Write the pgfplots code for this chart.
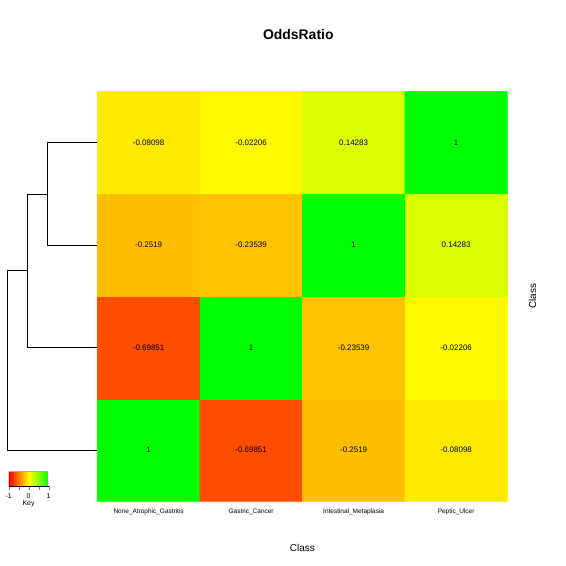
\documentclass[border=0pt]{standalone}
\usepackage{pgfplots}
\pgfplotsset{compat=1.18}
\usepackage{fontspec}
\setmainfont{Liberation Sans}
\pgfplotsset{colormap={ryg}{rgb255=(255,0,0) rgb255=(255,255,0) rgb255=(0,255,0)}}
\begin{document}
\begin{tikzpicture}[x=1bp,y=1bp]
\useasboundingbox (0,0) rectangle (566,566);
\begin{axis}[at={(95,63)}, anchor=south west, scale only axis, width=410bp, height=410bp,
  xmin=-0.5, xmax=3.5, ymin=-0.5, ymax=3.5, clip=false, axis line style={draw=none},
  colormap name=ryg, point meta min=-1, point meta max=1,
  xtick={0,1,2,3}, xticklabels={None\_Atrophic\_Gastritis,Gastric\_Cancer,Intestinal\_Metaplasia,Peptic\_Ulcer},
  ytick={0,1,2,3}, yticklabels={None\_Atrophic\_Gastritis,Gastric\_Cancer,Intestinal\_Metaplasia,Peptic\_Ulcer},
  yticklabel pos=right, major tick length=0pt,
  xticklabel style={font=\fontsize{6.5}{7}\selectfont, yshift=-4bp},
  yticklabel style={font=\fontsize{6.5}{7}\selectfont, rotate=90, anchor=south, xshift=4bp},
  xlabel={Class}, ylabel={Class}, ylabel near ticks, yticklabel pos=right,
  xlabel style={font=\fontsize{10}{12}\selectfont, yshift=-22bp},
  ylabel style={font=\fontsize{10}{12}\selectfont, yshift=-18bp},
  title={\bfseries OddsRatio}, title style={font=\fontsize{14}{16}\selectfont, at={(0.49,1)}, yshift=42bp},
  nodes near coords style={font=\fontsize{8}{9}\selectfont}]
\addplot[matrix plot*, mesh/cols=4, point meta=explicit] table[meta=v] {
x y v
0 0 1
1 0 -0.69851
2 0 -0.2519
3 0 -0.08098
0 1 -0.69851
1 1 1
2 1 -0.23539
3 1 -0.02206
0 2 -0.2519
1 2 -0.23539
2 2 1
3 2 0.14283
0 3 -0.08098
1 3 -0.02206
2 3 0.14283
3 3 1
};
\addplot[only marks, mark=none, nodes near coords, point meta=explicit symbolic, nodes near coords align=center] table[meta=v] {
x y v
0 0 1
1 0 -0.69851
2 0 -0.2519
3 0 -0.08098
0 1 -0.69851
1 1 1
2 1 -0.23539
3 1 -0.02206
0 2 -0.2519
1 2 -0.23539
2 2 1
3 2 0.14283
0 3 -0.08098
1 3 -0.02206
2 3 0.14283
3 3 1
};
% dendrogram
\addplot[black, thick, sharp plot] coordinates {(-0.5,3) (-0.988,3) (-0.988,2) (-0.5,2)};
\addplot[black, thick, sharp plot] coordinates {(-0.988,2.5) (-1.183,2.5) (-1.183,1) (-0.5,1)};
\addplot[black, thick, sharp plot] coordinates {(-1.183,1.75) (-1.378,1.75) (-1.378,0) (-0.5,0)};
\end{axis}
\begin{axis}[at={(43,531)}, anchor=south west, scale only axis, width=40bp, height=15bp,
  view={0}{90}, colormap name=ryg, point meta min=-1, point meta max=1,
  xmin=-1, xmax=1, ymin=0, ymax=1, ytick=\empty, axis x line*=bottom, axis y line=none,
  xtick={-1,-0.5,0,0.5,1}, xticklabels={-1,,0,,1}, tick align=outside, major tick length=4bp,
  xticklabel style={font=\fontsize{7}{8}\selectfont},
  xlabel={Key}, xlabel style={font=\fontsize{7}{8}\selectfont, yshift=5bp}]
\addplot3[surf, shader=interp, mesh/cols=3] coordinates {
(-1,0,-1) (0,0,0) (1,0,1)

(-1,1,-1) (0,1,0) (1,1,1)
};
\draw[gray] (axis cs:-1,0) rectangle (axis cs:1,1);
\end{axis}
\end{tikzpicture}
\end{document}
